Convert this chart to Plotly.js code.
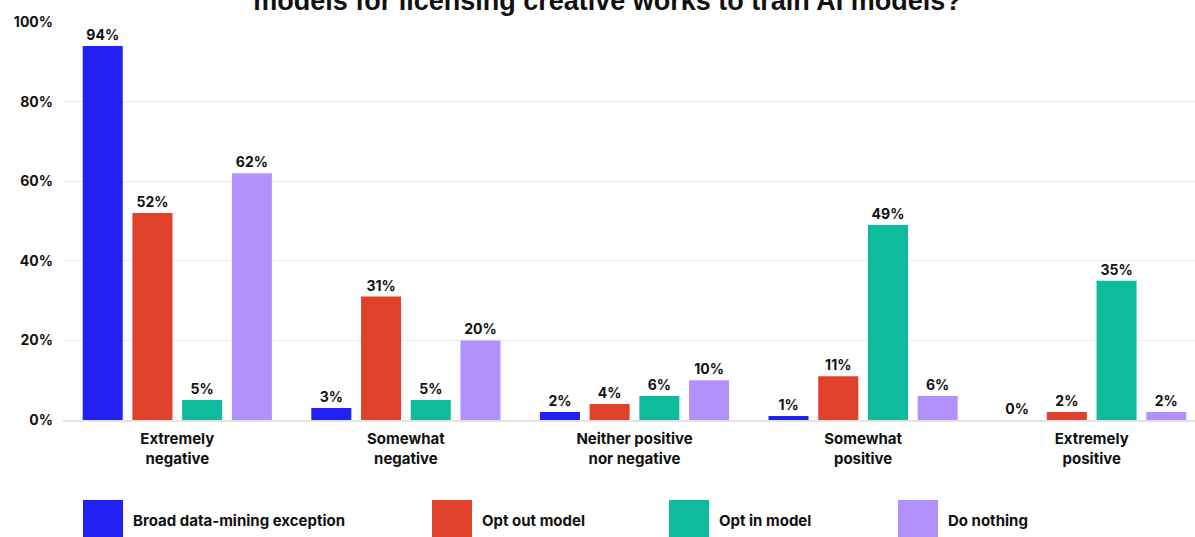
<!DOCTYPE html>
<html>
<head>
<meta charset="utf-8">
<script src="https://cdn.plot.ly/plotly-3.0.1.min.js"></script>
<style>
html,body{margin:0;padding:0;overflow:hidden;background:#fff;width:1195px;height:537px;}
#chart{position:absolute;left:0;top:-30px;width:1215px;height:567px;}
</style>
</head>
<body>
<div id="chart"></div>
<script>
// ---- data ----
const categories = ["Extremely<br>negative", "Somewhat<br>negative", "Neither positive<br>nor negative", "Somewhat<br>positive", "Extremely<br>positive"];
const seriesNames = ["Broad data-mining exception", "Opt out model", "Opt in model", "Do nothing"];
const broadDataMining = [94, 3, 2, 1, 0];
const optOutModel = [52, 31, 4, 11, 2];
const optInModel = [5, 5, 6, 49, 35];
const doNothing = [62, 20, 10, 6, 2];
const yTickValues = [0, 20, 40, 60, 80, 100];
const yTickLabels = ["0%", "20%", "40%", "60%", "80%", "100%"];
const titleText = "models for licensing creative works to train AI models?";

const seriesValues = [broadDataMining, optOutModel, optInModel, doNothing];
const colors = ["#2121F4", "#E0412A", "#0EBB9D", "#B391FD"];

const W = 1215, H = 567;
const mL = 63, mR = 9, mT = 52, mB = 117;
const plotW = W - mL - mR, plotH = H - mT - mB;

const traces = seriesValues.map((vals, i) => ({
  type: "bar",
  name: seriesNames[i],
  x: categories,
  y: vals,
  marker: {color: colors[i]},
  text: vals.map(v => v + "%"),
  textposition: "outside",
  cliponaxis: false,
  textfont: {family: "Inter, sans-serif", size: 14, color: "#111", weight: 700},
  hoverinfo: "none",
  showlegend: false
}));

// legend drawn as shapes + annotations (large swatches)
const legendBoxX = [83, 432, 669, 898];
const shapes = [];
const annotations = [];
const toPX = px => (px - mL) / plotW;
const toPY = py => (mT + plotH - (py + 30)) / plotH;
seriesNames.forEach((n, i) => {
  shapes.push({
    type: "rect", xref: "paper", yref: "paper",
    x0: toPX(legendBoxX[i]), x1: toPX(legendBoxX[i] + 40),
    y0: toPY(500), y1: toPY(540),
    fillcolor: colors[i], line: {width: 0}
  });
  annotations.push({
    xref: "paper", yref: "paper",
    x: toPX(legendBoxX[i] + 48), y: toPY(520),
    xanchor: "left", yanchor: "middle",
    text: n, showarrow: false,
    font: {family: "Inter, sans-serif", size: 15, color: "#111", weight: 700}
  });
});

const layout = {
  width: W, height: H,
  margin: {l: mL, r: mR, t: mT, b: mB, pad: 0},
  paper_bgcolor: "#fff", plot_bgcolor: "#fff",
  title: {
    text: titleText,
    font: {family: "Liberation Sans, Arial, sans-serif", size: 27, color: "#111", weight: 700},
    x: 0.5, xref: "container", xanchor: "center",
    y: 1 - 40 / H, yref: "container", yanchor: "bottom"
  },
  barmode: "group",
  bargap: 0.13,
  bargroupgap: 0.195,
  xaxis: {
    type: "category",
    showgrid: false,
    showline: true, linecolor: "#e3e3e3", linewidth: 2,
    ticks: "", ticklabelstandoff: 4,
    tickfont: {family: "Inter, sans-serif", size: 15, color: "#111", weight: 700},
    fixedrange: true
  },
  yaxis: {
    range: [0, 100],
    tickvals: yTickValues, ticktext: yTickLabels,
    showgrid: true, gridcolor: "#ebebeb", gridwidth: 1,
    zeroline: false, showline: false,
    ticks: "", ticklabelstandoff: 9,
    tickfont: {family: "Inter, sans-serif", size: 14, color: "#111", weight: 700},
    fixedrange: true
  },
  shapes: shapes,
  annotations: annotations,
  showlegend: false,
  font: {family: "Inter, sans-serif"}
};

Plotly.newPlot("chart", traces, layout, {displayModeBar: false, staticPlot: true});
</script>
</body>
</html>
